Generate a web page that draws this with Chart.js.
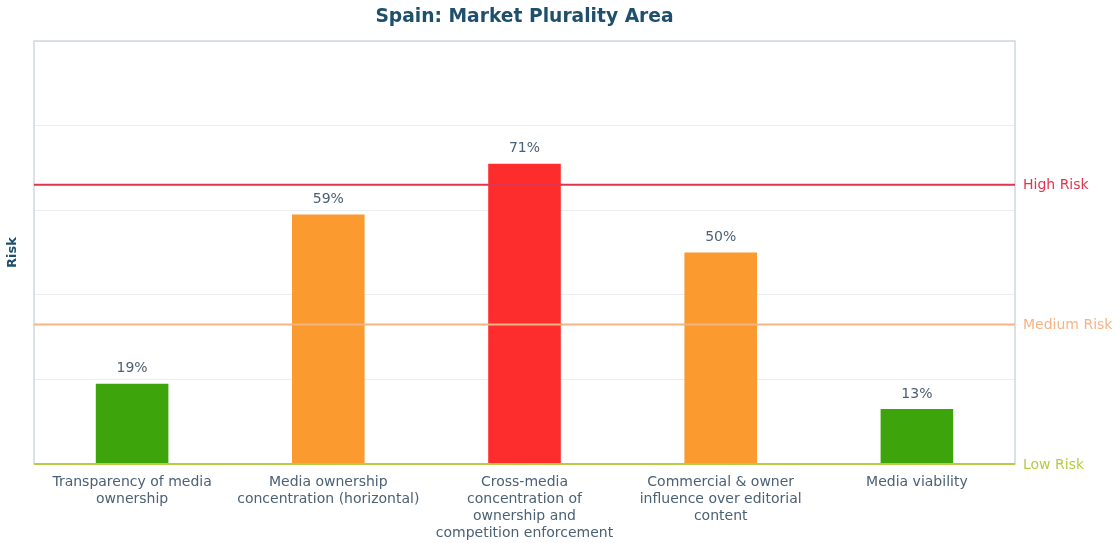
<!DOCTYPE html>
<html>
<head>
<meta charset="utf-8">
<script src="https://cdn.jsdelivr.net/npm/chart.js@4/dist/chart.umd.min.js"></script>
<style>
  html, body { margin: 0; padding: 0; background: #fff; }
  #wrap { width: 1116px; height: 543px; }
</style>
</head>
<body>
<div id="wrap"><canvas id="chart"></canvas></div>
<script>
// data
const chartTitle = 'Spain: Market Plurality Area';
const categories = [
  ['Transparency of media', 'ownership'],
  ['Media ownership', 'concentration (horizontal)'],
  ['Cross-media', 'concentration of', 'ownership and', 'competition enforcement'],
  ['Commercial & owner', 'influence over editorial', 'content'],
  ['Media viability']
];
const riskValues = [19, 59, 71, 50, 13];
const barColors = ['#3ea40b', '#fb9a2f', '#fe2d2d', '#fb9a2f', '#3ea40b'];
const thresholdNames = ['Low Risk', 'Medium Risk', 'High Risk'];
const thresholdValues = [0, 33, 66];
const thresholdColors = ['#b6cc45', '#f6b384', '#e2354d'];

const textColor = '#4b6175';

// title over the plot, threshold lines + labels on the right, frame, value labels
const riskPlugin = {
  id: 'riskPlugin',
  afterDatasetsDraw: function(chart) {
    const ctx = chart.ctx;
    const area = chart.chartArea;
    const y = chart.scales.y;
    ctx.save();
    // title, centred on the plot area
    ctx.fillStyle = '#1e4f6c';
    ctx.font = 'bold 18.7px "DejaVu Sans"';
    ctx.textAlign = 'center';
    ctx.textBaseline = 'middle';
    ctx.fillText(chartTitle, (area.left + area.right) / 2, 17);
    // frame
    ctx.strokeStyle = '#cfd8de';
    ctx.lineWidth = 1.5;
    ctx.strokeRect(area.left, area.top, area.right - area.left, area.bottom - area.top);
    // thresholds
    ctx.font = '14px "DejaVu Sans"';
    ctx.textAlign = 'left';
    for (var i = 0; i < thresholdValues.length; i++) {
      var py = y.getPixelForValue(thresholdValues[i]);
      ctx.strokeStyle = thresholdColors[i];
      ctx.lineWidth = 2;
      ctx.beginPath();
      ctx.moveTo(area.left, py);
      ctx.lineTo(area.right, py);
      ctx.stroke();
      ctx.fillStyle = thresholdColors[i];
      ctx.fillText(thresholdNames[i], area.right + 8, py + 1);
    }
    // value labels
    ctx.fillStyle = textColor;
    ctx.textAlign = 'center';
    ctx.textBaseline = 'bottom';
    const meta = chart.getDatasetMeta(0);
    meta.data.forEach(function(bar, idx) {
      ctx.fillText(riskValues[idx] + '%', bar.x, bar.y - 8);
    });
    ctx.restore();
  }
};

const ctx = document.getElementById('chart').getContext('2d');
var chart = new Chart(ctx, {
  type: 'bar',
  data: {
    labels: categories,
    datasets: [{
      label: 'Risk',
      data: riskValues,
      backgroundColor: barColors,
      borderWidth: 0,
      barPercentage: 0.37,
      categoryPercentage: 1
    }]
  },
  options: {
    responsive: true,
    maintainAspectRatio: false,
    animation: false,
    layout: { padding: { left: 0, right: 101, top: 41, bottom: 0 } },
    plugins: {
      legend: { display: false },
      tooltip: { enabled: false },
      title: { display: false }
    },
    scales: {
      x: {
        grid: { display: false, drawTicks: false },
        border: { display: false },
        ticks: {
          color: textColor,
          font: { family: 'DejaVu Sans', size: 14, lineHeight: 1.22 },
          padding: 10,
          maxRotation: 0,
          autoSkip: false
        },
        afterFit: function(scale) { scale.height = 79; }
      },
      y: {
        min: 0,
        max: 100,
        grid: { color: '#ebeef0', lineWidth: 1, drawTicks: false },
        border: { display: false },
        ticks: { display: false, stepSize: 20 },
        title: {
          display: true,
          text: 'Risk',
          color: '#1e4f6c',
          font: { family: 'DejaVu Sans', size: 13, weight: 'bold' },
          padding: { top: 5, bottom: 0 }
        },
        afterFit: function(scale) { scale.width = 34; }
      }
    }
  },
  plugins: [riskPlugin]
});
</script>
</body>
</html>
